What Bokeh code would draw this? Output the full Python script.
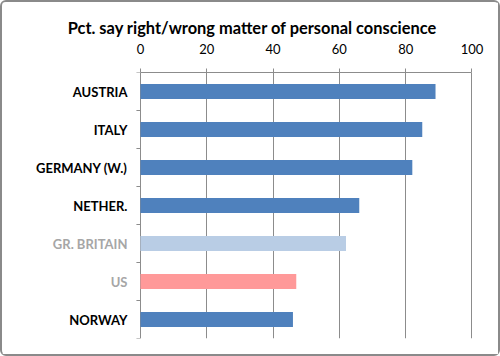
import numpy as np
from bokeh.plotting import figure
from bokeh.models import Range1d, FixedTicker, ColumnDataSource
from bokeh.core.properties import value
from bokeh.embed import file_html
from bokeh.resources import INLINE

title = "Pct. say right/wrong matter of personal conscience"
categories = ["AUSTRIA", "ITALY", "GERMANY (W.)", "NETHER.", "GR. BRITAIN", "US", "NORWAY"]
values = [89, 85, 82, 66, 62, 47, 46]
bar_colors = ["#4F81BD", "#4F81BD", "#4F81BD", "#4F81BD", "#B9CDE5", "#FF9999", "#4F81BD"]
label_colors = ["#000000", "#000000", "#000000", "#000000", "#A6A6A6", "#A6A6A6", "#000000"]
x_ticks = [0, 20, 40, 60, 80, 100]

FONT = "Lato"
GRID = "#8C8C8C"

n = len(categories)
# category slot positions (top to bottom), centre of each slot
ypos = [n - i - 0.5 for i in range(n)]
boundaries = list(range(n + 1))

src = ColumnDataSource(dict(cat=categories, val=values, y=ypos, color=bar_colors,
                            lcolor=label_colors, zero=[0] * n))

# frame spans the full width; the value axis occupies 0..100 inside it,
# the category labels sit in the space left of 0
p = figure(width=500, height=356, output_backend="svg", toolbar_location=None,
           y_range=Range1d(0, n), x_range=Range1d(-41.6, 109.2),
           x_axis_location="above", y_axis_location=None,
           min_border_left=0, min_border_right=0, min_border_top=70, min_border_bottom=20,
           outline_line_color=None)

p.hbar(y="y", right="val", left=0, height=0.4, color="color", line_color=None, source=src)

# boundary tick marks on the category axis
p.ray(x=[0] * len(boundaries), y=boundaries, length=4, length_units="screen",
      angle=np.pi, line_color=GRID, line_width=1)

# category labels
p.text(x="zero", y="y", text="cat", source=src, x_offset=-13,
       text_align="right", text_baseline="middle", text_color="lcolor",
       text_font=value(FONT), text_font_style="bold", text_font_size="13px")

# title
p.title.text = title
p.title.align = "center"
p.title.text_font = FONT
p.title.text_font_style = "bold"
p.title.text_font_size = "16.4px"
p.title.text_color = "#000000"
p.title.standoff = 7

# top x axis
xa = p.xaxis[0]
xa.ticker = FixedTicker(ticks=x_ticks)
xa.bounds = (0, 100)
xa.axis_line_color = GRID
xa.major_tick_line_color = GRID
xa.major_tick_out = 4
xa.major_tick_in = 0
xa.minor_tick_line_color = None
xa.major_label_text_font = FONT
xa.major_label_text_font_size = "13px"
xa.major_label_text_color = "#000000"
xa.major_label_standoff = 15

p.xgrid.ticker = FixedTicker(ticks=x_ticks)
p.xgrid.grid_line_color = GRID
p.ygrid.grid_line_color = None

p.styles = {"border": "2px solid #8A8A8A", "border-radius": "6px", "box-sizing": "border-box"}

open("out.html", "w").write(file_html(p, INLINE))
